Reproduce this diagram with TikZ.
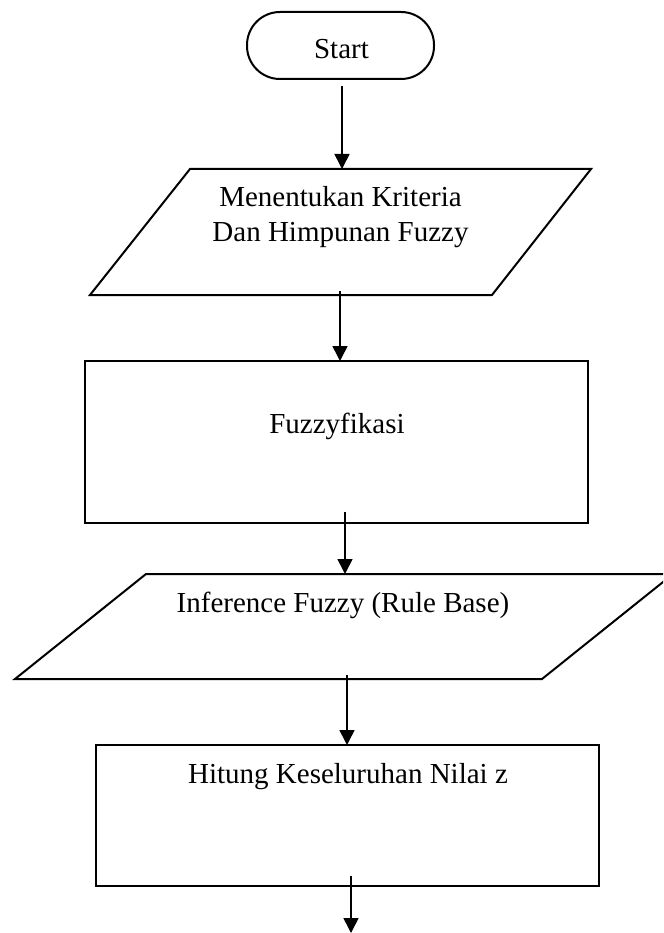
\documentclass[tikz,border=0pt]{standalone}
\usepackage{fontspec}
\setmainfont{Liberation Serif}
\usetikzlibrary{arrows.meta}

\begin{document}
\begin{tikzpicture}[x=1pt,y=-1pt,line width=2pt,
        flow/.style={line width=1.6pt,-{Triangle[length=15pt,width=15pt]}},
        txt/.style={font=\fontsize{29}{35}\selectfont,align=center,inner sep=0pt}]
        \useasboundingbox (0,0) rectangle (663,933);
        \clip (0,0) rectangle (663,933);
        % start
        \draw[rounded corners=33] (247,12) rectangle (434,79);
        \node[txt,anchor=base] (start) at (341.5,59) {Start};
        % criteria (input)
        \draw (190,169) -- (591,169) -- (492,295) -- (90,295) -- cycle;
        \node[txt] (crit) at (340.5,217.5) {Menentukan Kriteria\\Dan Himpunan Fuzzy};
        % fuzzyfikasi
        \draw (85,361) rectangle (588,523);
        \node[txt,anchor=base] (fuzz) at (337,433) {Fuzzyfikasi};
        % inference (input)
        \draw (146,574) -- (673,574) -- (542,679) -- (15,679) -- cycle;
        \node[txt,anchor=base] (infer) at (343,612) {Inference Fuzzy (Rule Base)};
        % nilai z
        \draw (96,745) rectangle (599,886);
        \node[txt,anchor=base] (zval) at (348,783) {Hitung Keseluruhan Nilai z};
        % arrow ends
        \coordinate (startout) at (342,86);
        \coordinate (critin) at (342,169);
        \coordinate (critout) at (340,291);
        \coordinate (fuzzin) at (340,361);
        \coordinate (fuzzout) at (345,512);
        \coordinate (inferin) at (345,574);
        \coordinate (inferout) at (347,675);
        \coordinate (zvalin) at (347,745);
        \coordinate (zvalout) at (351,876);
        \coordinate (next) at (351,933);
        \draw[flow] (startout) -- (critin);
        \draw[flow] (critout) -- (fuzzin);
        \draw[flow] (fuzzout) -- (inferin);
        \draw[flow] (inferout) -- (zvalin);
        \draw[flow] (zvalout) -- (next);
    \end{tikzpicture}
\end{document}
